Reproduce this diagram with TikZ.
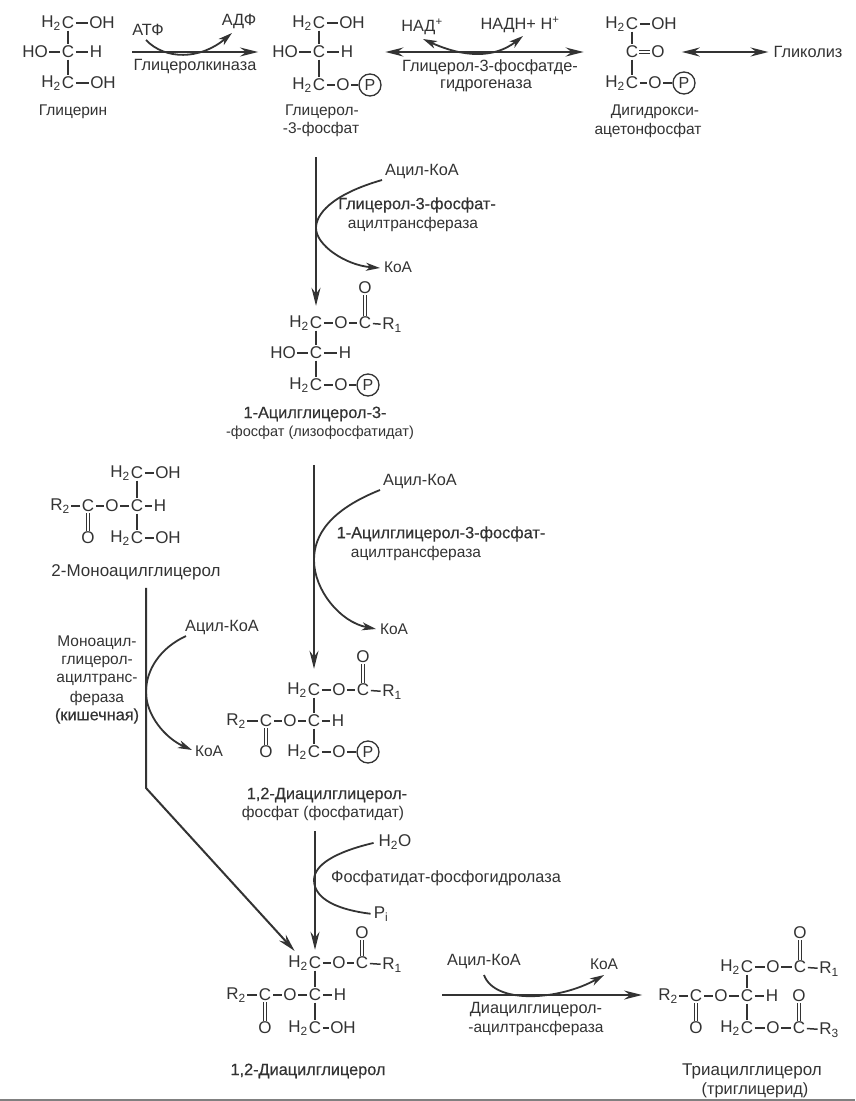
\documentclass[tikz,border=0pt]{standalone}
\usepackage{fontspec}
\setmainfont{Liberation Sans}
\newfontfamily\semib[FakeBold=0.35]{Liberation Sans}
\usetikzlibrary{arrows.meta}
\definecolor{ink}{HTML}{333333}
\newcommand{\Htwo}{H\textsubscript{2}}
\newcommand{\Rn}[1]{R\textsubscript{#1}}
\tikzset{
  every node/.style={text=ink},
  atom/.style={inner sep=1pt,font=\fontsize{17}{18}\selectfont},
  phos/.style={atom,circle,draw=ink,line width=1.3pt,minimum size=22pt,inner sep=0pt,font=\fontsize{16}{16}\selectfont},
  lab/.style={inner sep=1pt,font=\fontsize{15.5}{16}\selectfont},
  labb/.style={inner sep=1pt,font=\fontsize{16.3}{16}\selectfont},
  labs/.style={inner sep=1pt,font=\fontsize{14.5}{16}\selectfont},
  labx/.style={inner sep=1pt,font=\fontsize{17}{16}\selectfont},
  slab/.style={inner sep=1pt,font=\fontsize{16.3}{16}\semib},
  bond/.style={draw=ink,line width=1.5pt,shorten <=0.5pt,shorten >=0.5pt},
  dbond/.style={draw=ink,double=white,double distance=2pt,line width=1.1pt},
  rx/.style={draw=ink,line width=2pt,-{Stealth[length=18pt,width=9pt,inset=6pt]}},
  rxx/.style={draw=ink,line width=2pt,{Stealth[length=18pt,width=9pt,inset=6pt]}-{Stealth[length=18pt,width=9pt,inset=6pt]}},
  cv/.style={draw=ink,line width=1.8pt,-{Stealth[length=14pt,width=8pt,inset=4pt]}},
  cvv/.style={draw=ink,line width=1.8pt,{Stealth[length=14pt,width=8pt,inset=4pt]}-{Stealth[length=14pt,width=8pt,inset=4pt]}},
  cvn/.style={draw=ink,line width=1.8pt},
}
\begin{document}
\begin{tikzpicture}[x=1pt,y=-1pt]
\useasboundingbox (0,0) rectangle (855,1101);
\fill[white] (0,0) rectangle (855,1101);
\coordinate (bl) at (0,1100); \coordinate (br) at (855,1100);
\draw[gray,line width=1.5pt] (bl) -- (br);

% Glycerol
\node[atom] (gc1) at (68,23) {C}; \node[atom] (gh1) at (51,23) {\Htwo}; \node[atom] (goh1) at (102,23) {OH};
\node[atom] (gc2) at (68,52) {C}; \node[atom] (gho) at (35,52) {HO}; \node[atom] (gh) at (96,52) {H};
\node[atom] (gc3) at (68,83) {C}; \node[atom] (gh3) at (51,83) {\Htwo}; \node[atom] (goh3) at (103,83) {OH};
\draw[bond] (gc1)--(goh1); \draw[bond] (gc1)--(gc2); \draw[bond] (gho)--(gc2); \draw[bond] (gc2)--(gh); \draw[bond] (gc2)--(gc3); \draw[bond] (gc3)--(goh3);
\node[lab] (glab) at (73,112) {Глицерин};

% Glycerol-3-phosphate
\node[atom] (pc1) at (319,23) {C}; \node[atom] (ph1) at (302,23) {\Htwo}; \node[atom] (poh1) at (352,23) {OH};
\node[atom] (pc2) at (319,52) {C}; \node[atom] (pho) at (285,52) {HO}; \node[atom] (ph) at (347,52) {H};
\node[atom] (pc3) at (319,85) {C}; \node[atom] (ph3) at (302,85) {\Htwo}; \node[atom] (po3) at (343,85) {O}; \node[phos] (pp) at (370,85) {P};
\draw[bond] (pc1)--(poh1); \draw[bond] (pc1)--(pc2); \draw[bond] (pho)--(pc2); \draw[bond] (pc2)--(ph); \draw[bond] (pc2)--(pc3); \draw[bond] (pc3)--(po3); \draw[bond] (po3)--(pp);
\node[lab] (plab1) at (322,112) {Глицерол-};
\node[lab] (plab2) at (321,129) {-3-фосфат};

% DHAP
\node[atom] (dc1) at (632,24) {C}; \node[atom] (dh1) at (615,24) {\Htwo}; \node[atom] (doh1) at (664,24) {OH};
\node[atom] (dc2) at (632,52) {C}; \node[atom] (do2) at (658,52) {O};
\node[atom] (dc3) at (632,83) {C}; \node[atom] (dh3) at (615,83) {\Htwo}; \node[atom] (do3) at (655,83) {O}; \node[phos] (dp) at (684,83) {P};
\draw[bond] (dc1)--(doh1); \draw[bond] (dc1)--(dc2); \draw[dbond] (dc2)--(do2); \draw[bond] (dc2)--(dc3); \draw[bond] (dc3)--(do3); \draw[bond] (do3)--(dp);
\node[lab] (dlab1) at (655,112) {Дигидрокси-};
\node[lab] (dlab2) at (648,130) {ацетонфосфат};
\node[labb] (glyc) at (808,52) {Гликолиз};

% Top reactions
\node[labb] (atf) at (148,30) {АТФ};
\node[labb] (adf) at (239,21) {АДФ};
\node[labb] (gk) at (195,67) {Глицеролкиназа};
\draw[rx,shorten <=29pt,shorten >=13pt] (gh)--(pho);
\coordinate (a1) at (146,40); \coordinate (a2) at (232,33);
\draw[cv] (a1) .. controls (165,60) and (200,60) .. (a2);
\node[labb] (nad) at (422,27) {НАД\textsuperscript{+}};
\node[labb] (nadh) at (520,25) {НАДН+ Н\textsuperscript{+}};
\node[labb] (gd1) at (490,67) {Глицерол-3-фосфатде-};
\node[labb] (gd2) at (486,86) {гидрогеназа};
\draw[rxx,shorten <=31pt,shorten >=41pt] (ph) -- (dc2);
\coordinate (b1) at (423,39); \coordinate (b2) at (523,36);
\draw[cvv] (b1) .. controls (465,58) and (495,58) .. (b2);
\draw[rxx,shorten <=16pt,shorten >=4pt] (do2) -- (glyc.west);

% Lysophosphatidate
\node[atom] (lo) at (365,288) {O};
\node[atom] (lc1) at (316,323) {C}; \node[atom] (lh1) at (299,323) {\Htwo}; \node[atom] (lo1) at (341,323) {O}; \node[atom] (lcc) at (365,323) {C}; \node[atom] (lr1) at (392,325) {\Rn{1}};
\node[atom] (lc2) at (316,353) {C}; \node[atom] (lho) at (283,353) {HO}; \node[atom] (lh) at (345,353) {H};
\node[atom] (lc3) at (316,385) {C}; \node[atom] (lh3) at (299,385) {\Htwo}; \node[atom] (lo3) at (341,385) {O}; \node[phos] (lp) at (368,385) {P};
\draw[dbond] (lo)--(lcc); \draw[bond] (lc1)--(lo1); \draw[bond] (lo1)--(lcc); \draw[bond] (lcc)--(lr1); \draw[bond] (lc1)--(lc2); \draw[bond] (lho)--(lc2); \draw[bond] (lc2)--(lh); \draw[bond] (lc2)--(lc3); \draw[bond] (lc3)--(lo3); \draw[bond] (lo3)--(lp);
\node[slab] (llab1) at (315,414) {1-Ацилглицерол-3-};
\node[labs] (llab2) at (320,433) {-фосфат (лизофосфатидат)};

% Arrow 1
\draw[rx,shorten <=20pt,shorten >=10pt] (plab2.south -| lc1) -- (lc1.north);
\node[labb] (ac1) at (422,172) {Ацил-КоА};
\node[lab] (ko1) at (398,267) {КоА};
\node[slab] (e1a) at (417,205) {Глицерол-3-фосфат-};
\node[lab] (e1b) at (413,224) {ацилтрансфераза};
\coordinate (c1) at (382,180); \coordinate (c2) at (380,268);
\draw[cv] (c1) .. controls (330,195) and (316,215) .. (316,228) .. controls (316,245) and (345,265) .. (c2);

% Phosphatidate
\node[atom] (fo) at (363,657) {O};
\node[atom] (fc1) at (314,690) {C}; \node[atom] (fh1) at (297,690) {\Htwo}; \node[atom] (fo1) at (339,690) {O}; \node[atom] (fcc) at (363,690) {C}; \node[atom] (fr1) at (392,692) {\Rn{1}};
\node[atom] (fc2) at (314,721) {C}; \node[atom] (fh) at (338,721) {H}; \node[atom] (fo2) at (290,721) {O}; \node[atom] (fc4) at (266,721) {C}; \node[atom] (fr2) at (236,721) {\Rn{2}}; \node[atom] (fo4) at (266,752) {O};
\node[atom] (fc3) at (314,752) {C}; \node[atom] (fh3) at (297,752) {\Htwo}; \node[atom] (fo3) at (339,752) {O}; \node[phos] (fp) at (368,752) {P};
\draw[dbond] (fo)--(fcc); \draw[bond] (fc1)--(fo1); \draw[bond] (fo1)--(fcc); \draw[bond] (fcc)--(fr1); \draw[bond] (fc1)--(fc2); \draw[bond] (fc2)--(fh); \draw[bond] (fc2)--(fo2); \draw[bond] (fo2)--(fc4); \draw[bond] (fc4)--(fr2); \draw[dbond] (fc4)--(fo4); \draw[bond] (fc2)--(fc3); \draw[bond] (fc3)--(fo3); \draw[bond] (fo3)--(fp);
\node[slab] (flab1) at (327,795) {1,2-Диацилглицерол-};
\node[lab] (flab2) at (323,813) {фосфат (фосфатидат)};

% Arrow 2
\draw[rx,shorten <=24pt,shorten >=14pt] (llab2.south -| fc1) -- (fc1.north);
\node[labb] (ac2) at (420,482) {Ацил-КоА};
\node[lab] (ko2) at (394,629) {КоА};
\node[slab] (e2a) at (441,534) {1-Ацилглицерол-3-фосфат-};
\node[lab] (e2b) at (416,553) {ацилтрансфераза};
\coordinate (d1) at (380,490); \coordinate (d2) at (376,629);
\draw[cv] (d1) .. controls (330,510) and (314,535) .. (314,560) .. controls (314,590) and (340,622) .. (d2);

% Monoacylglycerol
\node[atom] (mc1) at (137,473) {C}; \node[atom] (mh1) at (120,473) {\Htwo}; \node[atom] (moh1) at (168,473) {OH};
\node[atom] (mc2) at (137,506) {C}; \node[atom] (mh) at (160,506) {H}; \node[atom] (mo2) at (112,506) {O}; \node[atom] (mc4) at (88,506) {C}; \node[atom] (mr2) at (60,506) {\Rn{2}}; \node[atom] (mo4) at (88,538) {O};
\node[atom] (mc3) at (137,538) {C}; \node[atom] (mh3) at (120,538) {\Htwo}; \node[atom] (moh3) at (168,538) {OH};
\draw[bond] (mc1)--(moh1); \draw[bond] (mc1)--(mc2); \draw[bond] (mc2)--(mh); \draw[bond] (mc2)--(mo2); \draw[bond] (mo2)--(mc4); \draw[bond] (mc4)--(mr2); \draw[dbond] (mc4)--(mo4); \draw[bond] (mc2)--(mc3); \draw[bond] (mc3)--(moh3);
\node[labx] (mlab) at (136,572) {2-Моноацилглицерол};
\node[lab] (ml1) at (97,643) {Моноацил-};
\node[lab] (ml2) at (97,662) {глицерол-};
\node[lab] (ml3) at (97,680) {ацилтранс-};
\node[lab] (ml4) at (97,698) {фераза};
\node[slab] (ml5) at (97,716) {(кишечная)};
\node[labb] (ac3) at (222,628) {Ацил-КоА};
\node[lab] (ko3) at (209,751) {КоА};
\coordinate (e1) at (186,636); \coordinate (e2) at (192,750);
\draw[cv] (e1) .. controls (160,648) and (146,670) .. (146,692) .. controls (146,715) and (165,738) .. (e2);

% DAG
\node[atom] (xo) at (362,933) {O};
\node[atom] (xc1) at (315,963) {C}; \node[atom] (xh1) at (298,963) {\Htwo}; \node[atom] (xo1) at (339,963) {O}; \node[atom] (xcc) at (362,963) {C}; \node[atom] (xr1) at (392,965) {\Rn{1}};
\node[atom] (xc2) at (315,995) {C}; \node[atom] (xh) at (340,995) {H}; \node[atom] (xo2) at (290,995) {O}; \node[atom] (xc4) at (265,995) {C}; \node[atom] (xr2) at (236,995) {\Rn{2}}; \node[atom] (xo4) at (265,1028) {O};
\node[atom] (xc3) at (315,1028) {C}; \node[atom] (xh3) at (298,1028) {\Htwo}; \node[atom] (xoh) at (343,1028) {OH};
\draw[dbond] (xo)--(xcc); \draw[bond] (xc1)--(xo1); \draw[bond] (xo1)--(xcc); \draw[bond] (xcc)--(xr1); \draw[bond] (xc1)--(xc2); \draw[bond] (xc2)--(xh); \draw[bond] (xc2)--(xo2); \draw[bond] (xo2)--(xc4); \draw[bond] (xc4)--(xr2); \draw[dbond] (xc4)--(xo4); \draw[bond] (xc2)--(xc3); \draw[bond] (xc3)--(xoh);
\node[slab] (xlab) at (308,1071) {1,2-Диацилглицерол};

% Arrow 3 and hydrolase
\draw[rx,shorten <=10pt,shorten >=6pt] (flab2.south -| xc1) -- (xc1.north);
\node[atom] (h2o) at (395,842) {H\textsubscript{2}O};
\node[atom] (pi) at (381,914) {P\textsubscript{i}};
\node[labb] (e3) at (446,878) {Фосфатидат-фосфогидролаза};
\draw[cvn,shorten <=4pt,shorten >=2pt] (h2o.west) .. controls (335,852) and (314,865) .. (314,880) .. controls (314,900) and (340,910) .. (pi.west);

% Monoacylglycerol route
\coordinate (corner) at (146,788);
\draw[rx,shorten <=7pt,shorten >=5pt] (mlab.south -| corner) -- (corner) -- (xh1.north);

% TAG
\node[atom] (to) at (800,933) {O};
\node[atom] (tc1) at (747,967) {C}; \node[atom] (th1) at (730,967) {\Htwo}; \node[atom] (to1) at (773,967) {O}; \node[atom] (tcc) at (800,967) {C}; \node[atom] (tr1) at (829,969) {\Rn{1}};
\node[atom] (tc2) at (747,996) {C}; \node[atom] (th) at (772,996) {H}; \node[atom] (to2) at (721,996) {O}; \node[atom] (tc4) at (696,996) {C}; \node[atom] (tr2) at (668,996) {\Rn{2}}; \node[atom] (to4) at (696,1028) {O};
\node[atom] (too) at (799,996) {O};
\node[atom] (tc3) at (747,1028) {C}; \node[atom] (th3) at (730,1028) {\Htwo}; \node[atom] (to3) at (773,1028) {O}; \node[atom] (tc5) at (799,1028) {C}; \node[atom] (tr3) at (829,1030) {\Rn{3}};
\draw[dbond] (to)--(tcc); \draw[bond] (tc1)--(to1); \draw[bond] (to1)--(tcc); \draw[bond] (tcc)--(tr1); \draw[bond] (tc1)--(tc2); \draw[bond] (tc2)--(th); \draw[bond] (tc2)--(to2); \draw[bond] (to2)--(tc4); \draw[bond] (tc4)--(tr2); \draw[dbond] (tc4)--(to4); \draw[bond] (tc2)--(tc3); \draw[bond] (tc3)--(to3); \draw[bond] (to3)--(tc5); \draw[bond] (tc5)--(tr3); \draw[dbond] (too)--(tc5);
\node[labx] (tlab1) at (752,1071) {Триацилглицерол};
\node[labb] (tlab2) at (755,1090) {(триглицерид)};

% Last reaction
\node[labb] (ac4) at (484,962) {Ацил-КоА};
\node[lab] (ko4) at (604,964) {КоА};
\node[labb] (e4a) at (536,1010) {Диацилглицерол-};
\node[lab] (e4b) at (536,1028) {-ацилтрансфераза};
\draw[rx,shorten <=95pt,shorten >=15pt] (xh) -- (tr2.west |- xh);
\coordinate (f1) at (484,975); \coordinate (f2) at (604,975);
\draw[cv] (f1) .. controls (495,1005) and (560,1000) .. (f2);
\end{tikzpicture}
\end{document}
